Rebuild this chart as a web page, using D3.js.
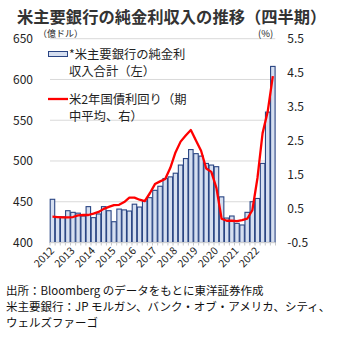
<!DOCTYPE html>
<html><head><meta charset="utf-8">
<script src="https://cdn.jsdelivr.net/npm/d3@7"></script>
<style>
html,body{margin:0;padding:0;background:#fff;}
svg{display:block;}
text{font-family:"Noto Sans CJK JP","Noto Sans",sans-serif;}
</style></head>
<body>
<script>
// ---- data ----
const years = ["2012","2013","2014","2015","2016","2017","2018","2019","2020","2021","2022"];
const quarters = d3.range(44).map(i => years[Math.floor(i/4)] + "Q" + (i%4+1));
const netInterest = [453,431.5,431.5,439,437,436,432.5,444,430.5,435,444,439,425.5,441,440,438.6,
  447,443.5,451,455,464,469,478.5,480.5,485,495,503,514,509,506,497,495,493,456,430,432.5,
  423.5,421.5,437,450,454,497,560,616];
const yield2y = [0.26,0.25,0.24,0.24,0.25,0.3,0.31,0.31,0.35,0.40,0.49,0.55,0.6,0.61,0.69,0.82,
  0.82,0.76,0.72,0.95,1.22,1.3,1.37,1.7,2.15,2.47,2.65,2.81,2.5,2.2,1.68,1.58,1.1,0.2,0.14,0.14,
  0.13,0.16,0.2,0.45,1.4,2.72,3.36,4.4];
const leftTicks = [400,450,500,550,600,650];
const rightTicks = [-0.5,0.5,1.5,2.5,3.5,4.5,5.5];
const title = "米主要銀行の純金利収入の推移（四半期）";
const legendBar = ["*米主要銀行の純金利","収入合計（左）"];
const legendLine = ["米2年国債利回り（期","中平均、右）"];
const notes = ["出所：Bloomberg のデータをもとに東洋証券作成",
  "米主要銀行：JP モルガン、バンク・オブ・アメリカ、シティ、",
  "ウェルズファーゴ"];

const W = 340, H = 337;
const svg = d3.select("body").append("svg").attr("width",W).attr("height",H);

const x = d3.scaleBand().domain(quarters).range([50,275.3]).paddingInner(0.12).paddingOuter(0.04);
const yL = d3.scaleLinear().domain([400,650]).range([242.5,38.7]);
const yR = d3.scaleLinear().domain([-0.5,5.5]).range([242.5,38.7]);

// title
svg.append("text").attr("x",17).attr("y",22.5).attr("font-size",16.3).attr("font-weight","bold")
  .attr("fill","#333").text(title);

// gridlines
svg.append("g").selectAll("line").data(leftTicks).join("line")
  .attr("x1",50).attr("x2",275.3).attr("y1",d=>yL(d)).attr("y2",d=>yL(d))
  .attr("stroke","#d9d9d9").attr("stroke-width",1);

// left axis
const gL = svg.append("g").attr("transform","translate(50,0)")
  .call(d3.axisLeft(yL).tickValues(leftTicks).tickSize(0).tickPadding(17));
gL.select(".domain").remove();
gL.selectAll("text").attr("font-size",12).attr("fill","#222").attr("font-family","'Liberation Sans',Arial,sans-serif");

// right axis
const gR = svg.append("g").attr("transform","translate(275.3,0)")
  .call(d3.axisRight(yR).tickValues(rightTicks).tickSize(0).tickPadding(12).tickFormat(d3.format(".1f")));
gR.select(".domain").remove();
gR.selectAll("text").attr("font-size",12).attr("fill","#222").attr("font-family","'Liberation Sans',Arial,sans-serif")
  .text(d => d < 0 ? "-" + Math.abs(d).toFixed(1) : d.toFixed(1));

// unit labels
svg.append("text").attr("x",38).attr("y",37).attr("font-size",9).attr("fill","#222").text("（億ドル）");
svg.append("text").attr("x",258).attr("y",37).attr("font-size",9.5).attr("fill","#222").text("(%)");

// bars
svg.append("g").selectAll("rect").data(netInterest).join("rect")
  .attr("x",(d,i)=>x(quarters[i])).attr("width",x.bandwidth())
  .attr("y",d=>yL(d)).attr("height",d=>yL(400)-yL(d))
  .attr("fill","#d6dff0").attr("stroke","#2a4583").attr("stroke-width",1.1);

// x baseline & ticks
svg.append("line").attr("x1",50).attr("x2",275.3).attr("y1",yL(400)).attr("y2",yL(400))
  .attr("stroke","#d0d0d0");
const step = x.step();
svg.append("g").selectAll("line").data(d3.range(45)).join("line")
  .attr("x1",d=>50+d*step).attr("x2",d=>50+d*step).attr("y1",yL(400)).attr("y2",yL(400)+3)
  .attr("stroke","#c8c8c8");

// year labels
svg.append("g").selectAll("text").data(years).join("text")
  .attr("transform",(d,i)=>`translate(${x(quarters[i*4]) + x.bandwidth()/2 + 2.5},${yL(400)+9}) rotate(-45)`)
  .attr("text-anchor","end").attr("font-size",10.5).attr("fill","#222")
  .attr("font-family","'Liberation Sans',Arial,sans-serif").text(d=>d);

// line
const line = d3.line().x((d,i)=>x(quarters[i])+x.bandwidth()/2).y(d=>yR(d));
svg.append("path").datum(yield2y).attr("d",line).attr("fill","none")
  .attr("stroke","#ff0000").attr("stroke-width",2.3).attr("stroke-linejoin","round");

// legend
svg.append("rect").attr("x",48.5).attr("y",51.5).attr("width",19).attr("height",5)
  .attr("fill","#d6dff0").attr("stroke","#2a4583").attr("stroke-width",1);
svg.append("line").attr("x1",48).attr("x2",68).attr("y1",99).attr("y2",99)
  .attr("stroke","#ff0000").attr("stroke-width",2.3);
svg.append("g").selectAll("text").data(legendBar).join("text")
  .attr("x",69).attr("y",(d,i)=>59+i*17).attr("font-size",12.3).attr("fill","#222").text(d=>d);
svg.append("g").selectAll("text").data(legendLine).join("text")
  .attr("x",69).attr("y",(d,i)=>104+i*16.5).attr("font-size",12.3).attr("fill","#222").text(d=>d);

// notes
svg.append("g").selectAll("text").data(notes).join("text")
  .attr("x",6).attr("y",(d,i)=>295+i*16).attr("font-size",11.5).attr("fill","#111").text(d=>d);
</script>
</body></html>
